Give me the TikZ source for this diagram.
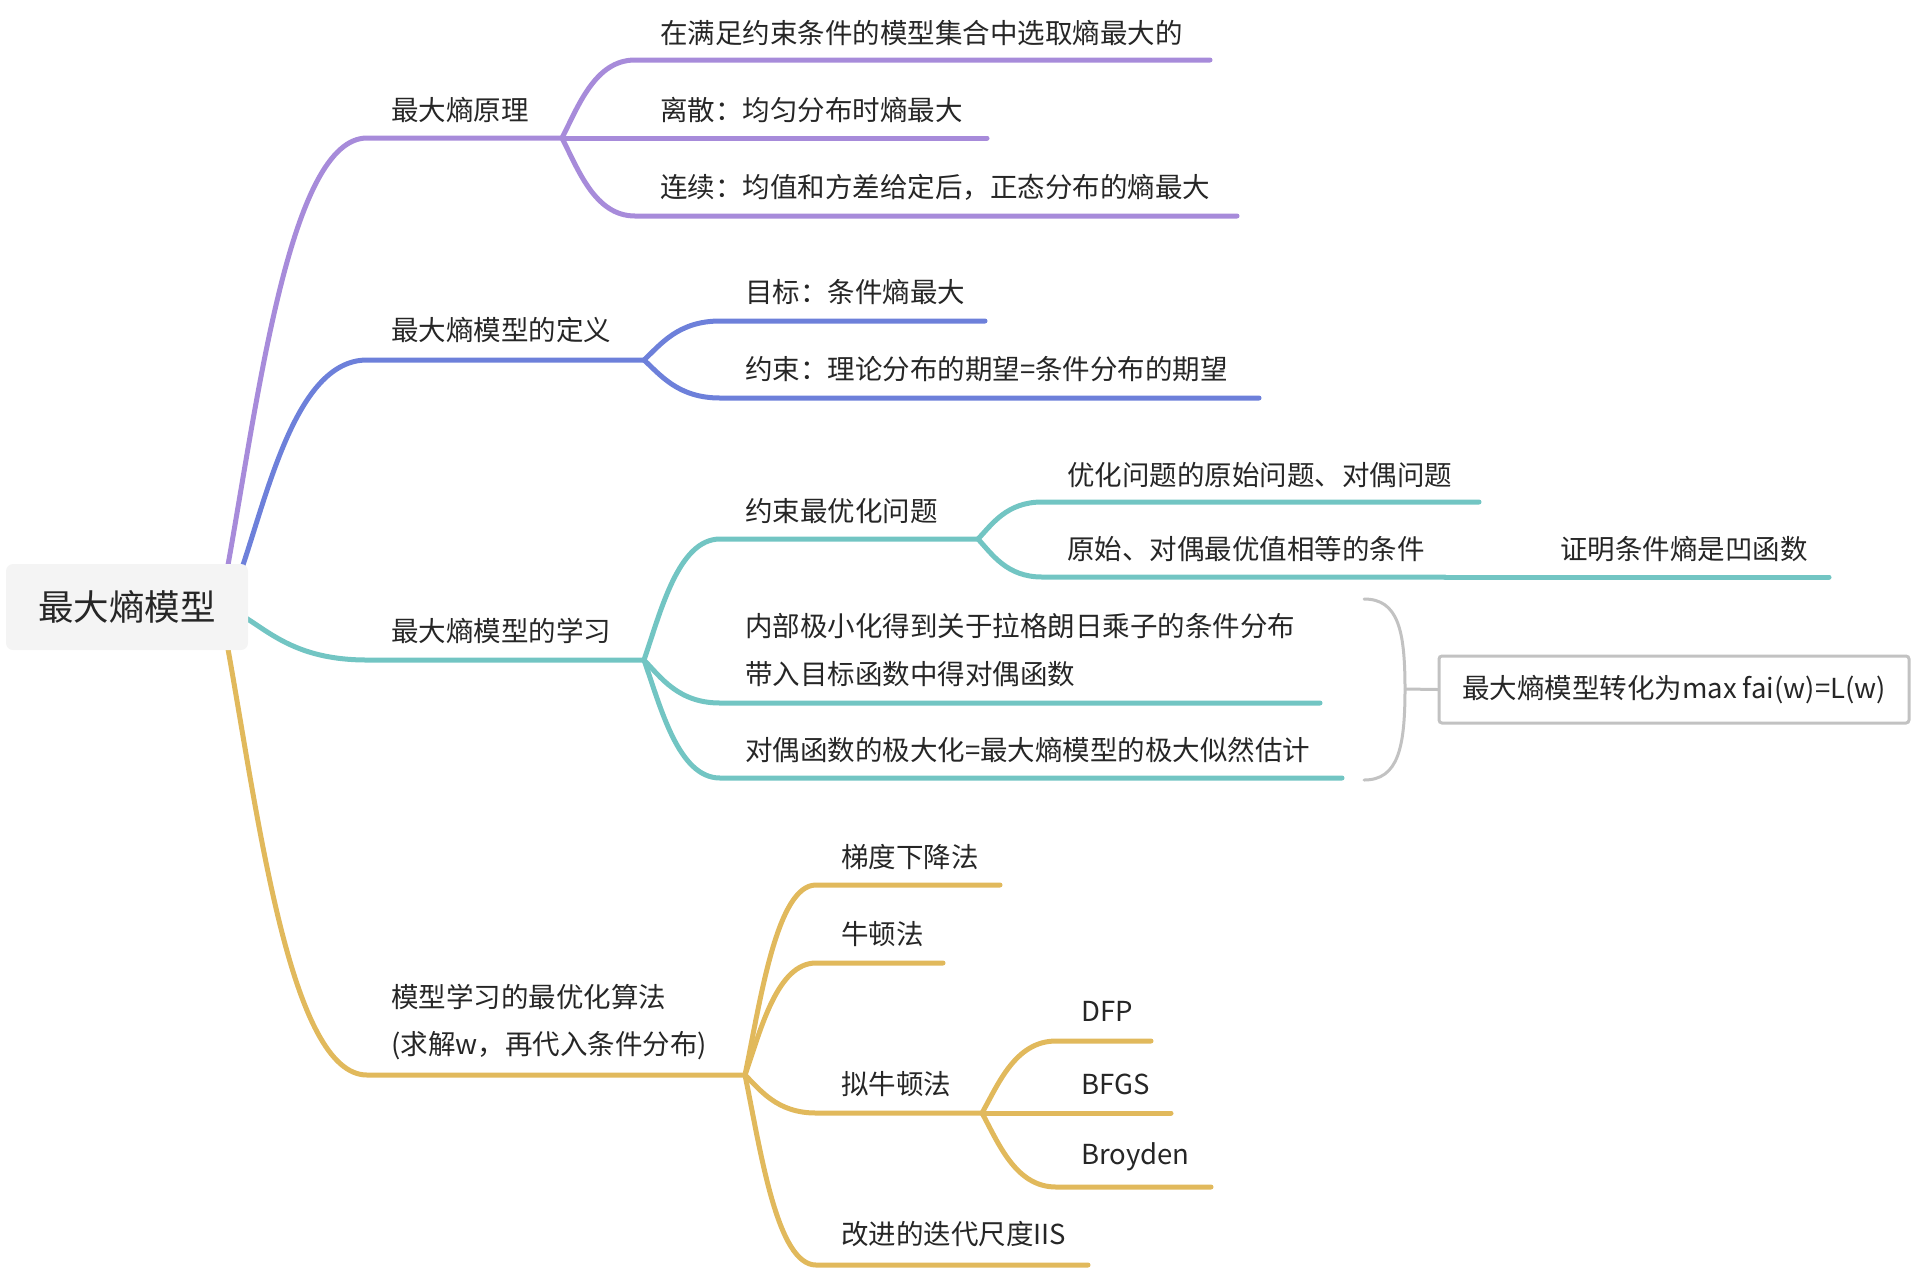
\documentclass[tikz,border=0pt]{standalone}
\usepackage{fontspec}
\setmainfont{Noto Sans CJK SC}
\usetikzlibrary{calc}
\definecolor{cP}{HTML}{A78BDA}
\definecolor{cB}{HTML}{6D80DA}
\definecolor{cT}{HTML}{72C5C3}
\definecolor{cY}{HTML}{E1B95C}
\definecolor{txt}{HTML}{262626}
\definecolor{rootfill}{HTML}{F4F4F4}
\definecolor{gr}{HTML}{C2C2C2}
\begin{document}
\begin{tikzpicture}[x=1pt,y=-1pt,
  lbl/.style={anchor=west,inner sep=0pt,text=txt,font=\fontsize{27.5}{47.5}\selectfont,align=left},
  wire/.style={line width=5pt,line cap=round},
  branch/.style={to path={let \p1=(\tikztostart), \p2=(\tikztotarget) in
     .. controls ({\x1+0.22*(\x2-\x1)},{\y1+0.4*(\y2-\y1)}) and ({\x1+0.45*(\x2-\x1)},{\y2}) .. (\tikztotarget)}},
  rootbox/.style={fill=rootfill,rounded corners=7pt,minimum width=242pt,minimum height=86pt,inner sep=0pt,text=txt,font=\fontsize{35.5}{40}\selectfont},
  convbox/.style={draw=gr,line width=3pt,rounded corners=3pt,minimum width=470pt,minimum height=67pt,inner sep=0pt,text=txt,font=\fontsize{27.5}{32}\selectfont},
  brk/.style={draw=gr,line width=3pt,line cap=round}]
\useasboundingbox (0,0) rectangle (1916,1270);

% start points at root
\coordinate (pS) at (228,565);
\coordinate (bS) at (243,565);
\coordinate (tS) at (246,618);
\coordinate (yS) at (228,649);

% ---------- purple ----------
\coordinate (pA) at (367,138); \coordinate (pZ) at (562,138);
\node[lbl] (pL) at (391,110) {最大熵原理};
\draw[wire,cP] (pS) to[branch] (pA) -- (pZ);
\coordinate (p1A) at (635,60); \coordinate (p1Z) at (1210,60);
\node[lbl] (p1L) at (660,33) {在满足约束条件的模型集合中选取熵最大的};
\draw[wire,cP] (pZ) to[branch] (p1A) -- (p1Z);
\coordinate (p2Z) at (987,138);
\node[lbl] (p2L) at (660,110) {离散：均匀分布时熵最大};
\draw[wire,cP] (pZ) -- (p2Z);
\coordinate (p3A) at (635,216); \coordinate (p3Z) at (1237,216);
\node[lbl] (p3L) at (660,187) {连续：均值和方差给定后，正态分布的熵最大};
\draw[wire,cP] (pZ) to[branch] (p3A) -- (p3Z);

% ---------- blue ----------
\coordinate (bA) at (367,360); \coordinate (bZ) at (644,360);
\node[lbl] (bL) at (391,330) {最大熵模型的定义};
\draw[wire,cB] (bS) to[branch] (bA) -- (bZ);
\coordinate (b1A) at (720,321); \coordinate (b1Z) at (985,321);
\node[lbl] (b1L) at (745,292) {目标：条件熵最大};
\draw[wire,cB] (bZ) to[branch] (b1A) -- (b1Z);
\coordinate (b2A) at (720,398); \coordinate (b2Z) at (1259,398);
\node[lbl] (b2L) at (745,369) {约束：理论分布的期望=条件分布的期望};
\draw[wire,cB] (bZ) to[branch] (b2A) -- (b2Z);

% ---------- teal ----------
\coordinate (tA) at (367,660); \coordinate (tZ) at (644,660);
\node[lbl] (tL) at (391,631) {最大熵模型的学习};
\draw[wire,cT] (tS) to[branch] (tA) -- (tZ);
\coordinate (t1A) at (720,539); \coordinate (t1Z) at (978,539);
\node[lbl] (t1L) at (745,511) {约束最优化问题};
\draw[wire,cT] (tZ) to[branch] (t1A) -- (t1Z);
\coordinate (t11A) at (1042,502); \coordinate (t11Z) at (1479,502);
\node[lbl] (t11L) at (1067,475) {优化问题的原始问题、对偶问题};
\draw[wire,cT] (t1Z) to[branch] (t11A) -- (t11Z);
\coordinate (t12A) at (1042,577); \coordinate (t12Z) at (1445,577);
\node[lbl] (t12L) at (1067,549) {原始、对偶最优值相等的条件};
\draw[wire,cT] (t1Z) to[branch] (t12A) -- (t12Z);
\coordinate (t121Z) at (1829,577);
\node[lbl] (t121L) at (1560,549) {证明条件熵是凹函数};
\draw[wire,cT] (t12Z) -- (t121Z);
\coordinate (t2A) at (720,703); \coordinate (t2Z) at (1320,703);
\node[lbl] (t2L) at (745,650) {内部极小化得到关于拉格朗日乘子的条件分布\\带入目标函数中得对偶函数};
\draw[wire,cT] (tZ) to[branch] (t2A) -- (t2Z);
\coordinate (t3A) at (720,778); \coordinate (t3Z) at (1342,778);
\node[lbl] (t3L) at (745,750) {对偶函数的极大化=最大熵模型的极大似然估计};
\draw[wire,cT] (tZ) to[branch] (t3A) -- (t3Z);

% bracket summary
\coordinate (bkT) at (1364,599);
\coordinate (bkB) at (1364,780);
\coordinate (bkM) at (1405,689);
\draw[brk] (bkT) .. controls (1398,599) and (1405,630) .. (bkM)
                 .. controls (1405,748) and (1398,780) .. (bkB);
\node[convbox] (conv) at (1674,689.5) {最大熵模型转化为max fai(w)=L(w)};
\draw[brk] (bkM) -- (conv.west);

% ---------- yellow ----------
\coordinate (yA) at (367,1075); \coordinate (yZ) at (745,1075);
\node[lbl] (yL) at (391,1022) {模型学习的最优化算法\\(求解w，再代入条件分布)};
\draw[wire,cY] (yS) to[branch] (yA) -- (yZ);
\coordinate (y1A) at (816,885); \coordinate (y1Z) at (1000,885);
\node[lbl] (y1L) at (841,857) {梯度下降法};
\draw[wire,cY] (yZ) to[branch] (y1A) -- (y1Z);
\coordinate (y2A) at (816,963); \coordinate (y2Z) at (943,963);
\node[lbl] (y2L) at (841,934) {牛顿法};
\draw[wire,cY] (yZ) to[branch] (y2A) -- (y2Z);
\coordinate (y3A) at (816,1113); \coordinate (y3Z) at (982,1113);
\node[lbl] (y3L) at (841,1084) {拟牛顿法};
\draw[wire,cY] (yZ) to[branch] (y3A) -- (y3Z);
\coordinate (y4A) at (816,1265); \coordinate (y4Z) at (1088,1265);
\node[lbl] (y4L) at (841,1234) {改进的迭代尺度IIS};
\draw[wire,cY] (yZ) to[branch] (y4A) -- (y4Z);
\coordinate (y31A) at (1056,1041); \coordinate (y31Z) at (1151,1041);
\node[lbl] (y31L) at (1081,1011) {DFP};
\draw[wire,cY] (y3Z) to[branch] (y31A) -- (y31Z);
\coordinate (y32Z) at (1171,1113);
\node[lbl] (y32L) at (1081,1084) {BFGS};
\draw[wire,cY] (y3Z) -- (y32Z);
\coordinate (y33A) at (1056,1187); \coordinate (y33Z) at (1211,1187);
\node[lbl] (y33L) at (1081,1157) {Broyden};
\draw[wire,cY] (y3Z) to[branch] (y33A) -- (y33Z);

% root
\node[rootbox] (root) at (127,607) {最大熵模型};
\end{tikzpicture}
\end{document}
